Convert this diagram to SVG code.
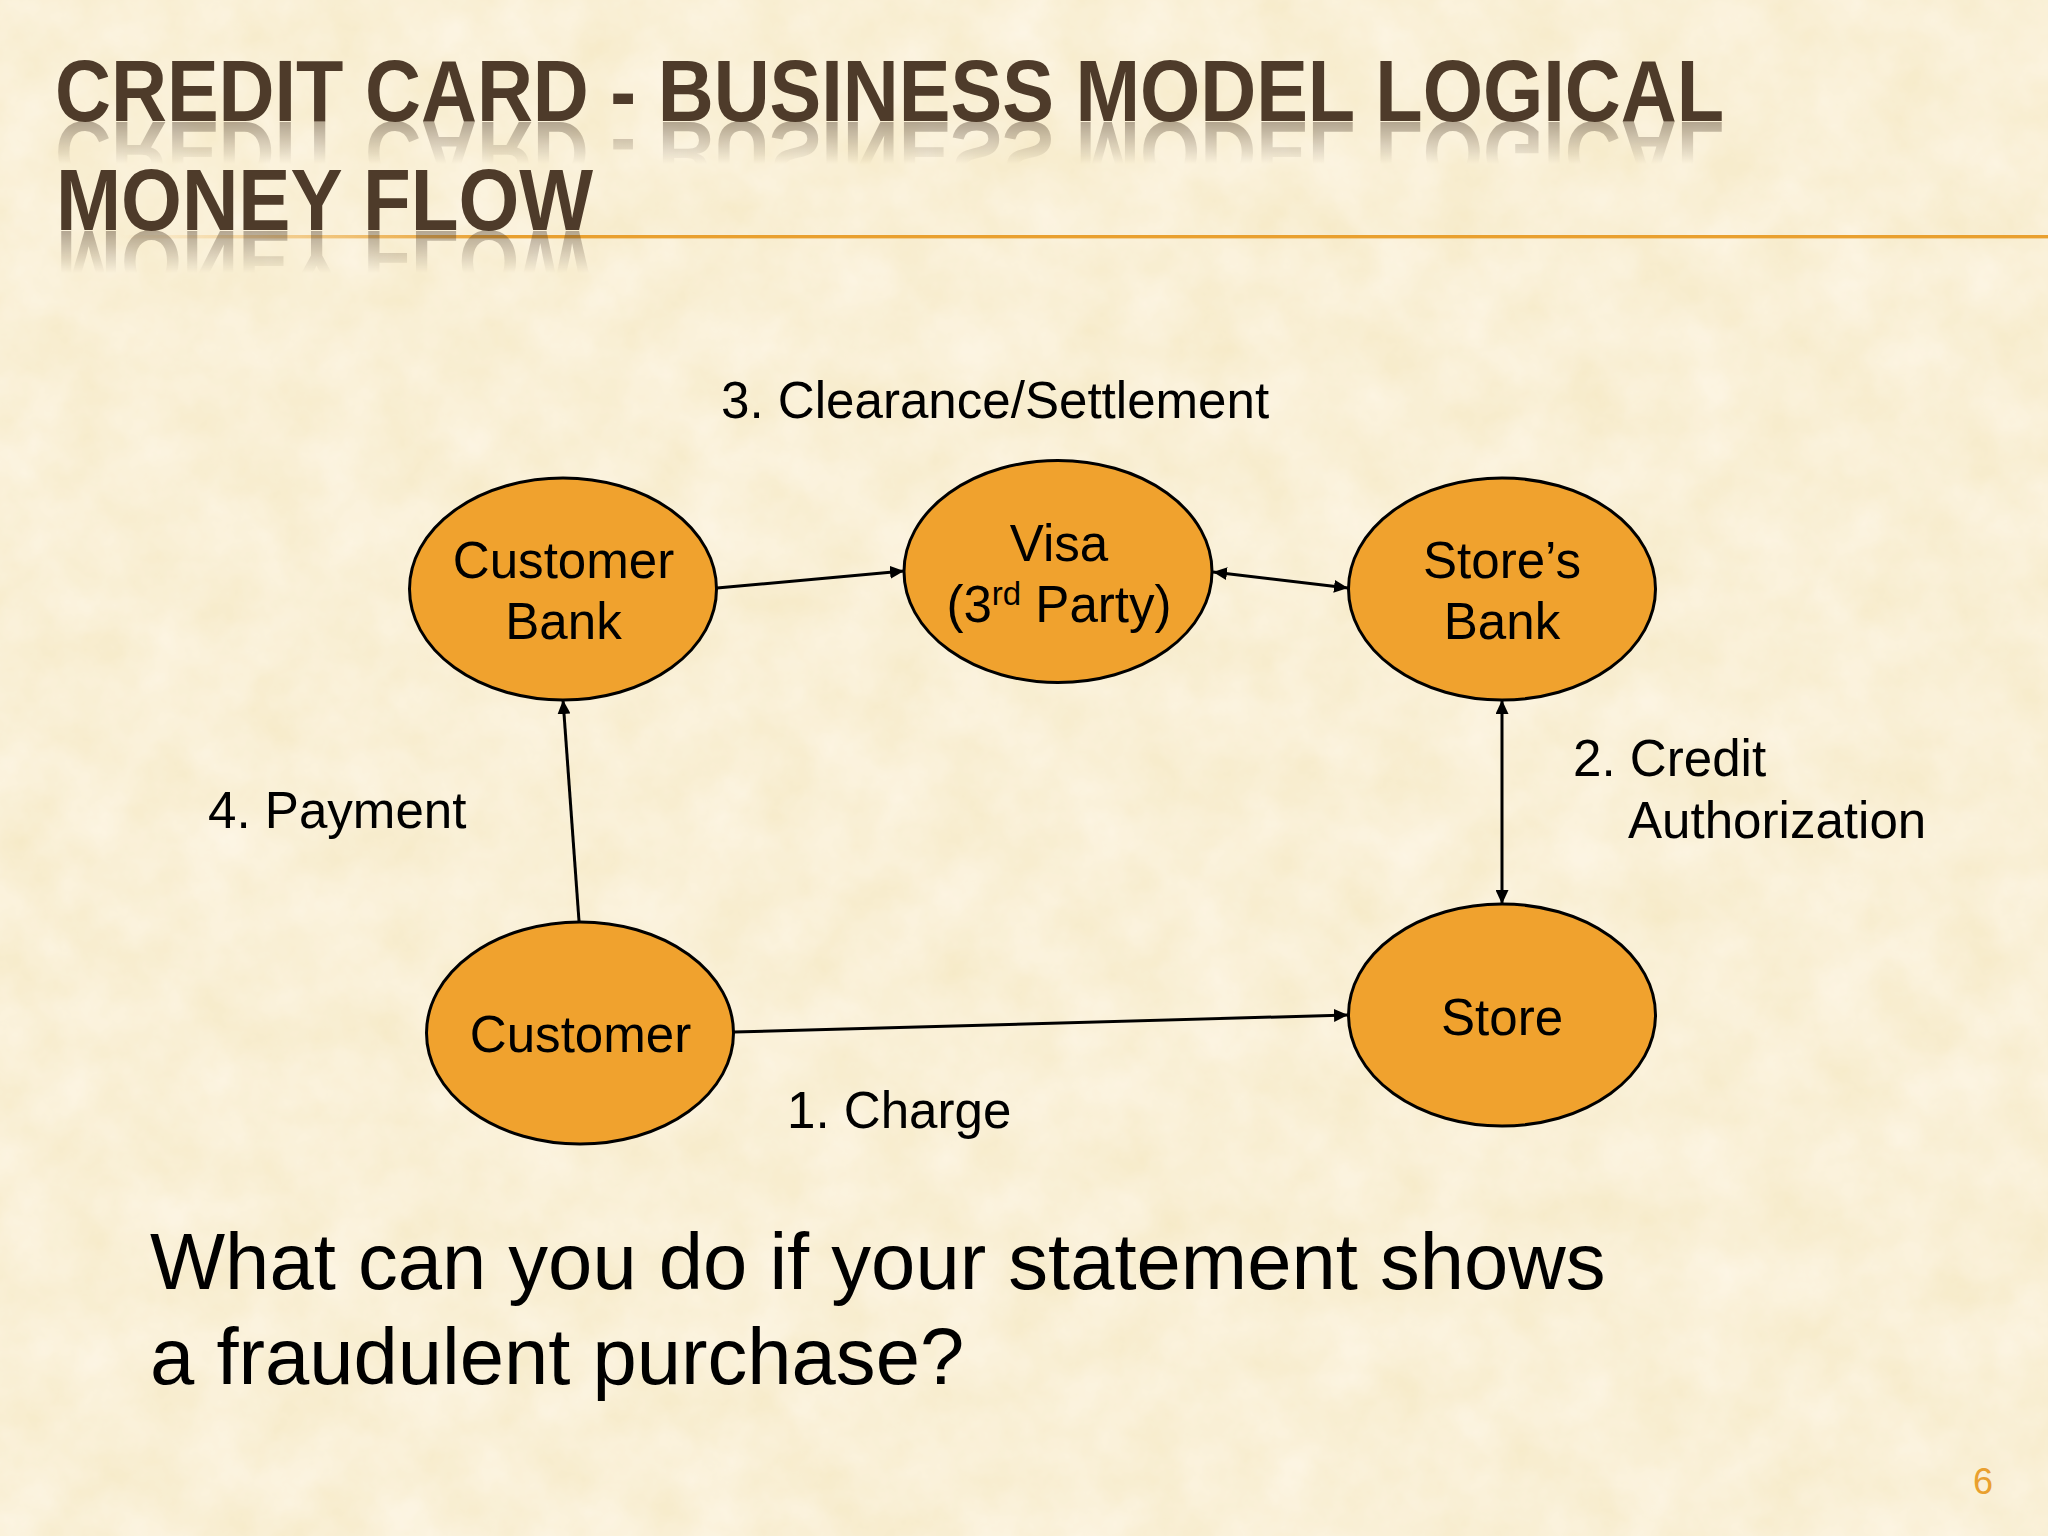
<svg xmlns="http://www.w3.org/2000/svg" xmlns:xlink="http://www.w3.org/1999/xlink" width="2048" height="1536" viewBox="0 0 2048 1536">
<style>
.n{fill:#F0A22E;stroke:#000;stroke-width:3}
.t{font-family:"Liberation Sans",Arial,sans-serif;font-size:51.1px;fill:#000}
.m{text-anchor:middle}
.q{font-size:79.6px}
.h{font-family:"Liberation Sans",Arial,sans-serif;font-weight:700;font-size:88px;fill:#4E3B2A}
.c{stroke:#000;stroke-width:3;fill:none}
.e{marker-end:url(#a)}
.s{marker-start:url(#b)}
</style>
<defs>
<filter id="p" x="0" y="0" width="100%" height="100%" color-interpolation-filters="sRGB">
<feTurbulence type="fractalNoise" baseFrequency="0.016" numOctaves="5" seed="7"/>
<feColorMatrix values="0.03 0 0 0 0.963  0.05 0 0 0 0.915  0.13 0 0 0 0.775  0 0 0 0 1"/>
</filter>
<marker id="a" markerUnits="userSpaceOnUse" markerWidth="15" markerHeight="13" refX="14" refY="6.5" orient="auto"><path d="M0 0L14 6.5L0 13z" fill="#000"/></marker>
<marker id="b" markerUnits="userSpaceOnUse" markerWidth="15" markerHeight="13" refX="1" refY="6.5" orient="auto"><path d="M15 0L1 6.5L15 13z" fill="#000"/></marker>
<linearGradient id="l" gradientUnits="userSpaceOnUse" x1="120" y1="0" x2="500" y2="0"><stop offset="0" stop-color="#E9A02F" stop-opacity="0"/><stop offset="1" stop-color="#E9A02F"/></linearGradient>
<linearGradient id="g1" gradientUnits="userSpaceOnUse" x1="0" y1="121" x2="0" y2="164"><stop offset="0" stop-color="#fff" stop-opacity=".42"/><stop offset="1" stop-color="#fff" stop-opacity="0"/></linearGradient>
<linearGradient id="g2" gradientUnits="userSpaceOnUse" x1="0" y1="230" x2="0" y2="273"><stop offset="0" stop-color="#fff" stop-opacity=".42"/><stop offset="1" stop-color="#fff" stop-opacity="0"/></linearGradient>
<mask id="m1" maskUnits="userSpaceOnUse" x="0" y="0" width="2048" height="300"><rect x="0" y="121" width="2048" height="44" fill="url(#g1)"/></mask>
<mask id="m2" maskUnits="userSpaceOnUse" x="0" y="0" width="2048" height="300"><rect x="0" y="230" width="2048" height="44" fill="url(#g2)"/></mask>
</defs>
<rect id="background" width="2048" height="1536" filter="url(#p)"/>
<rect id="rule" x="120" y="235" width="1928" height="3.4" fill="url(#l)"/>
<g id="title">
<text id="t1" class="h" x="55" y="120.7" textLength="1669" lengthAdjust="spacingAndGlyphs">CREDIT CARD - BUSINESS MODEL LOGICAL</text>
<text id="t2" class="h" x="56" y="230" textLength="537" lengthAdjust="spacingAndGlyphs">MONEY FLOW</text>
<g mask="url(#m1)"><use href="#t1" xlink:href="#t1" transform="matrix(1 0 0 -1 0 243)"/></g>
<g mask="url(#m2)"><use href="#t2" xlink:href="#t2" transform="matrix(1 0 0 -1 0 461)"/></g>
</g>
<g id="connectors">
<line class="c e" x1="717" y1="588" x2="904" y2="571"/>
<line class="c e s" x1="1213" y1="572" x2="1348" y2="588"/>
<line class="c e s" x1="1502" y1="700" x2="1502" y2="904"/>
<line class="c e" x1="579" y1="921" x2="563" y2="700"/>
<line class="c e" x1="734" y1="1032" x2="1348" y2="1015"/>
</g>
<g id="customer-bank"><ellipse class="n" cx="563" cy="589" rx="153.5" ry="111"/><text class="t m" x="563.5" y="578">Customer</text><text class="t m" x="563.5" y="639">Bank</text></g>
<g id="visa"><ellipse class="n" cx="1058" cy="571.5" rx="154" ry="111"/><text class="t m" x="1059" y="561">Visa</text><text class="t m" x="1059" y="622">(3<tspan font-size="33" dy="-17">rd</tspan><tspan dy="17"> Party)</tspan></text></g>
<g id="stores-bank"><ellipse class="n" cx="1502" cy="589" rx="153.5" ry="111"/><text class="t m" x="1502" y="578">Store’s</text><text class="t m" x="1502" y="639">Bank</text></g>
<g id="store"><ellipse class="n" cx="1502" cy="1015" rx="153.5" ry="111"/><text class="t m" x="1502" y="1035">Store</text></g>
<g id="customer"><ellipse class="n" cx="580" cy="1033" rx="153.5" ry="111"/><text class="t m" x="580.5" y="1052">Customer</text></g>
<g id="labels">
<text class="t" x="721" y="418">3. Clearance/Settlement</text>
<text class="t" x="208" y="828">4. Payment</text>
<text class="t" x="1573" y="776">2. Credit</text>
<text class="t" x="1628" y="838">Authorization</text>
<text class="t" x="787" y="1128">1. Charge</text>
<text class="t q" x="150" y="1288.5">What can you do if your statement shows</text>
<text class="t q" x="150" y="1383.5">a fraudulent purchase?</text>
<text x="1983" y="1494" text-anchor="middle" font-family="'Liberation Sans',Arial,sans-serif" font-size="36" fill="#E9A02F">6</text>
</g>
</svg>
